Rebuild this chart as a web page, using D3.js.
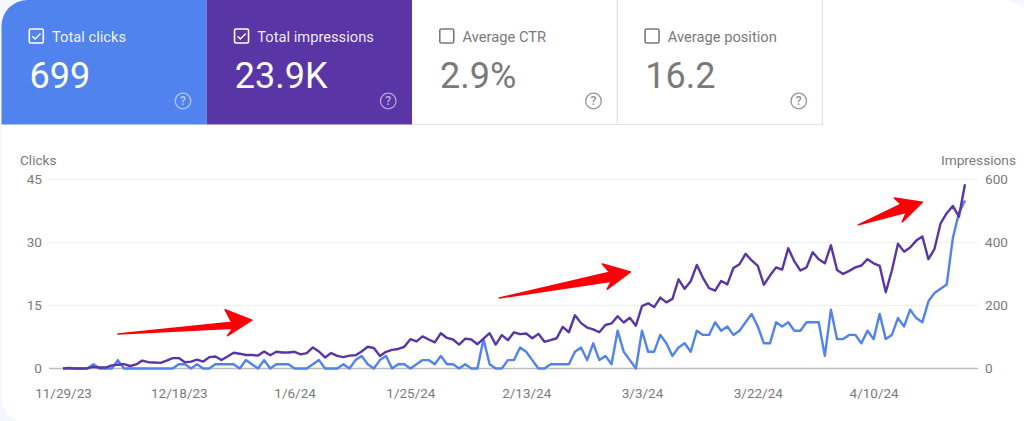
<!DOCTYPE html>
<html><head><meta charset="utf-8">
<script src="https://cdn.jsdelivr.net/npm/d3@7/dist/d3.min.js"></script>
<style>html,body{margin:0;padding:0;background:#fff;overflow:hidden}svg{display:block}text{font-family:Roboto,sans-serif}</style>
</head><body><svg id="c" width="1024" height="421"></svg>
<script>
const startDate = new Date(2023, 10, 29);
const clicks = [
0,0,0,0,0,1,0,0,0,2,
0,0,0,0,0,0,0,0,0,1,
1,0,1,0,0,1,1,1,1,0,
2,1,0,2,0,1,1,1,0,0,
0,1,2,0,0,0,1,0,2,3,
1,0,2,3,0,1,1,0,1,2,
2,1,3,1,1,0,1,0,0,7,
1,0,0,2,2,5,4,2,0,0,
1,1,1,1,4,5,2,6,2,3,
1,9,4,2,0,9,4,4,8,6,
3,5,6,4,9,8,8,11,9,10,
8,9,11,13,10,6,6,11,10,11,
9,9,11,11,11,3,14,7,7,8,
8,6,9,7,13,7,8,12,10,14,
12,11,16,18,19,20,31,37,40];
const impressions = [
0,2,0,0,1,5,3,3,10,12,
14,8,13,25,20,19,18,25,33,33,
20,22,28,22,36,38,27,38,50,47,
43,43,41,54,42,53,51,51,53,45,
49,67,54,35,49,40,36,41,42,54,
69,65,40,53,59,62,69,93,86,102,
92,83,112,97,92,76,95,92,77,95,
112,76,106,90,115,109,111,96,110,85,
90,96,132,115,169,144,130,124,115,138,
143,166,146,161,136,198,207,195,225,210,
221,283,253,277,329,288,255,247,278,267,
319,331,364,343,326,266,295,321,314,382,
340,311,321,369,347,334,391,313,300,310,
321,327,347,334,326,242,311,396,371,384,
406,419,347,380,461,493,516,482,585];
const clickTicks = [0,15,30,45];
const impressionTicks = [0,200,400,600];
const dateTicks = ["11/29/23","12/18/23","1/6/24","1/25/24","2/13/24","3/3/24","3/22/24","4/10/24"];
const cardLabels = ["Total clicks","Total impressions","Average CTR","Average position"];
const cardValues = ["699","23.9K","2.9%","16.2"];
const cardChecked = [true,true,false,false];
const cardFills = ["#5083ed","#5935a6","#ffffff","#ffffff"];
// annotation arrows, in chart units [day index, clicks]
const arrowShapes = [
 [[9.0,8.2],[27.7,11.0],[26.6,14.0],[31.0,11.5],[27.0,7.8],[27.9,9.6]],
 [[71.6,16.8],[89.7,22.9],[88.5,24.9],[93.1,23.0],[89.3,18.9],[90.0,20.8]],
 [[130.5,34.2],[137.5,39.1],[136.4,40.6],[141.0,39.6],[137.7,34.9],[138.4,37.2]]
];

const svg = d3.select("#c");
const BLUE="#5083ed", PURPLE="#5935a6", GREY="#7a7a7a";
const dateOf = i => d3.timeDay.offset(startDate, i);
const x = d3.scaleTime().domain([dateOf(0), dateOf(clicks.length-1)]).range([63,965]);
const yC = d3.scaleLinear().domain([0,45]).range([368.5,179.5]);
const yI = d3.scaleLinear().domain([0,600]).range([368.5,179.5]);
const parse = d3.timeParse("%m/%d/%y");

// page backdrop with soft rounded white sheet
svg.append("rect").attr("width",1024).attr("height",421).attr("fill","#f4f7fd");
svg.append("path").attr("d","M1.5,26A26,26 0 0 1 27.5,0H1006A30,30 0 0 1 1024,9V421H24A22.5,22.5 0 0 1 1.5,398.5Z").attr("fill","#fff");

// cards
const cardW = 205.25, cardX = i => 1.5 + i*cardW, cardH = 124.5;
const g = svg.append("g");
cardLabels.forEach((lab,i)=>{
  const x0 = cardX(i), on = cardChecked[i], fg = on ? "#fff" : GREY;
  if(i===0){
    g.append("path").attr("d",`M${x0},${cardH}V26A26,26 0 0 1 ${x0+26},0H${x0+cardW}V${cardH}Z`).attr("fill",cardFills[i]);
  } else if(on){
    g.append("rect").attr("x",x0).attr("y",0).attr("width",cardW).attr("height",cardH).attr("fill",cardFills[i]);
  } else {
    g.append("path").attr("d",`M${x0+cardW},0V${cardH}H${x0}`).attr("fill","none").attr("stroke","#e3e3e3").attr("stroke-width",1.2);
  }
  const bx = x0+27.8, by = 29;
  g.append("rect").attr("x",bx).attr("y",by).attr("width",14).attr("height",14).attr("rx",1.5)
    .attr("fill","none").attr("stroke",fg).attr("stroke-width",1.6);
  if(on) g.append("path").attr("d",`M${bx+3},${by+7.2}l2.8,2.8l5.4,-5.6`).attr("fill","none").attr("stroke",fg).attr("stroke-width",1.4);
  g.append("text").attr("x",x0+50.5).attr("y",41.5).attr("font-size",14.7).attr("fill",on?"#fff":GREY).attr("fill-opacity",on?.92:1).text(lab);
  g.append("text").attr("x",x0+28).attr("y",88).attr("font-size",36).attr("fill",fg).text(cardValues[i]);
  const qx = x0+181.5, qy = 101;
  g.append("circle").attr("cx",qx).attr("cy",qy).attr("r",7.8).attr("fill","none").attr("stroke",fg).attr("stroke-width",1.3).attr("stroke-opacity",on?.55:.8);
  g.append("text").attr("x",qx).attr("y",qy+4.2).attr("text-anchor","middle").attr("font-size",12).attr("font-weight",500).attr("fill",fg).attr("fill-opacity",on?.6:.85).text("?");
});

// axis titles
svg.append("text").attr("x",20).attr("y",165).attr("font-size",13.6).attr("fill",GREY).text("Clicks");
svg.append("text").attr("x",1016).attr("y",165).attr("text-anchor","end").attr("font-size",13.7).attr("fill",GREY).text("Impressions");

// grid + axes
const left = svg.append("g").attr("transform","translate(52,0)")
  .call(d3.axisLeft(yC).tickValues(clickTicks).tickSize(0).tickPadding(10));
const right = svg.append("g").attr("transform","translate(977,0)")
  .call(d3.axisRight(yI).tickValues(impressionTicks).tickSize(0).tickPadding(8));
[left,right].forEach(a=>{a.select(".domain").remove();
  a.selectAll("text").attr("font-size",13.6).attr("fill",GREY).style("font-family","Roboto,sans-serif");});
svg.append("g").selectAll("line").data(clickTicks).join("line")
  .attr("x1",49).attr("x2",978).attr("y1",d=>yC(d)).attr("y2",d=>yC(d))
  .attr("stroke",d=>d===0?"#bdbdbd":"#efefef").attr("stroke-width",d=>d===0?1.3:1);
const bottom = svg.append("g").attr("transform","translate(0,368.5)")
  .call(d3.axisBottom(x).tickValues(dateTicks.map(parse)).tickSize(0).tickPadding(20)
    .tickFormat((d,i)=>dateTicks[i]));
bottom.select(".domain").remove();
bottom.selectAll("text").attr("font-size",13.5).attr("fill",GREY).style("font-family","Roboto,sans-serif");

// lines
const line = (sc)=>d3.line().x((d,i)=>x(dateOf(i))).y(d=>sc(d));
svg.append("path").datum(clicks).attr("d",line(yC)).attr("fill","none").attr("stroke",BLUE).attr("stroke-width",2.4).attr("stroke-linejoin","round");
svg.append("path").datum(impressions).attr("d",line(yI)).attr("fill","none").attr("stroke",PURPLE).attr("stroke-width",2.4).attr("stroke-linejoin","round");

// arrows
const ax = d3.scaleLinear().domain([0,clicks.length-1]).range(x.range());
svg.append("g").selectAll("path").data(arrowShapes).join("path")
  .attr("d",s=>d3.line().x(p=>ax(p[0])).y(p=>yC(p[1]))(s)+"Z")
  .attr("fill","#fb0007").attr("stroke","#fb0007").attr("stroke-width",1.5).attr("stroke-linejoin","round");
</script></body></html>
